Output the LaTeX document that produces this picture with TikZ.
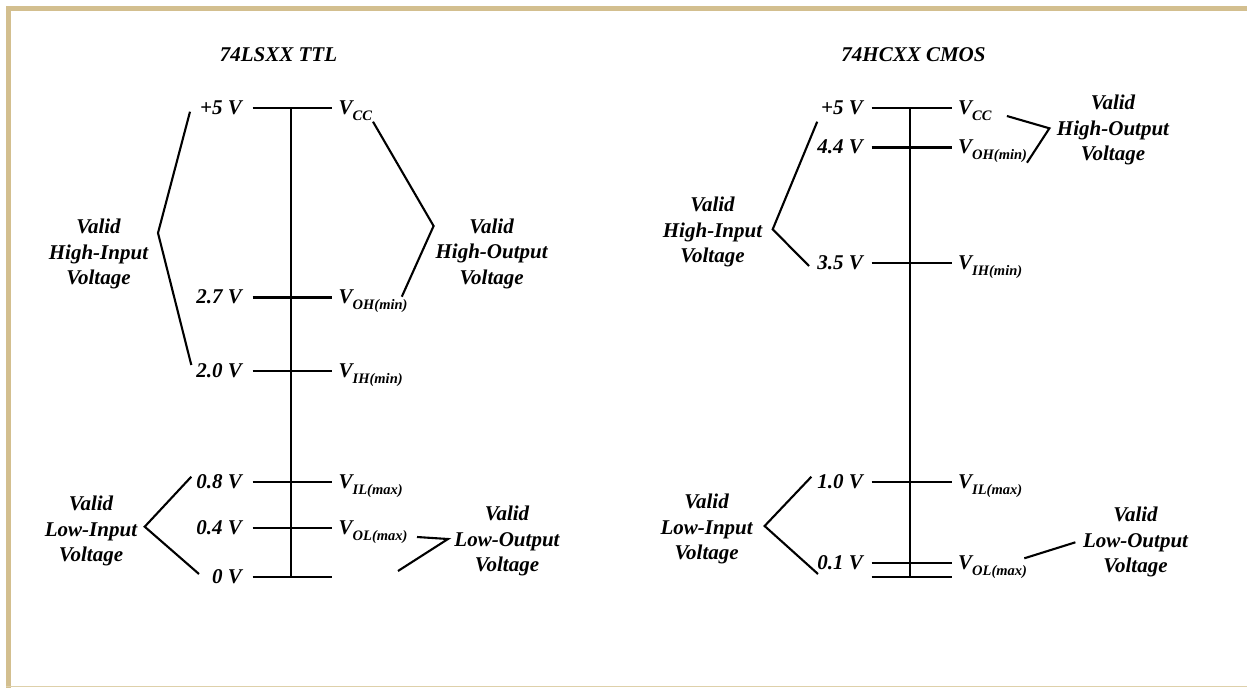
\documentclass[tikz,border=0pt]{standalone}
\usepackage{fontspec}
\setmainfont{Liberation Serif}
\definecolor{bordertan}{RGB}{211,191,143}
\definecolor{bordertanlight}{RGB}{222,208,170}
\newcommand{\sbs}[1]{\raisebox{-6pt}{\fontsize{14.5}{14.5}\selectfont #1}}
\tikzset{
  lbl/.style={font=\fontsize{21}{25.5}\selectfont\bfseries\itshape, inner sep=0pt},
  grp/.style={lbl, align=center},
  leftlbl/.style={lbl, anchor=base east},
  rightlbl/.style={lbl, anchor=base west},
  axisline/.style={line width=2.4pt},
  tickline/.style={line width=2.4pt},
  brace/.style={line width=2.1pt, line join=miter},
}
\begin{document}
\begin{tikzpicture}[x=1pt,y=-1pt]
\useasboundingbox (0,0) rectangle (1247,688);
% border
\fill[bordertan] (6,6) rectangle (1247,11);
\fill[bordertan] (6,6) rectangle (11,687.5);
\draw[bordertanlight, line width=1.3pt] (6,686.8) -- (1247,686.8);

% ================= LEFT: 74LSXX TTL =================
\node[lbl] (Ltitle) at (278.5,55) {74LSXX TTL};
\coordinate (Ltop) at (291,108);
\coordinate (Lbot) at (291,576.7);
\draw[axisline] (Ltop) -- (Lbot);
\foreach \n/\y in {a/108, b/297.3, c/370.7, d/481.7, e/527.7, f/576.7}{
  \coordinate (Lt\n1) at (252.6,\y);
  \coordinate (Lt\n2) at (332,\y);
  \draw[tickline] (Lt\n1) -- (Lt\n2);
}
\node[leftlbl] (L5) at (242,114.5) {+5 V};
\node[leftlbl] (L27) at (242,303.8) {2.7 V};
\node[leftlbl] (L20) at (242,377.2) {2.0 V};
\node[leftlbl] (L08) at (242,488.2) {0.8 V};
\node[leftlbl] (L04) at (242,534.2) {0.4 V};
\node[leftlbl] (L00) at (242,583.2) {0 V};
\node[rightlbl] (Lvcc) at (338.5,114.5) {V\sbs{CC}};
\node[rightlbl] (Lvoh) at (338.5,303.8) {V\sbs{OH(min)}};
\node[rightlbl] (Lvih) at (338.5,377.2) {V\sbs{IH(min)}};
\node[rightlbl] (Lvil) at (338.5,488.2) {V\sbs{IL(max)}};
\node[rightlbl] (Lvol) at (338.5,534.2) {V\sbs{OL(max)}};

\node[grp] (Lhi) at (98.5,254) {Valid\\High-Input\\Voltage};
\node[grp] (Lho) at (491.6,253.7) {Valid\\High-Output\\Voltage};
\node[grp] (Lli) at (91,531) {Valid\\Low-Input\\Voltage};
\node[grp] (Llo) at (507,541) {Valid\\Low-Output\\Voltage};

\coordinate (LhiA) at (190,111.7); \coordinate (LhiB) at (158,233); \coordinate (LhiC) at (191.3,365);
\draw[brace] (LhiA) -- (LhiB) -- (LhiC);
\coordinate (LhoA) at (373,121.7); \coordinate (LhoB) at (433.6,226); \coordinate (LhoC) at (401.8,296.7);
\draw[brace] (LhoA) -- (LhoB) -- (LhoC);
\coordinate (LliA) at (191.3,476.7); \coordinate (LliB) at (144.7,526.7); \coordinate (LliC) at (199,574);
\draw[brace] (LliA) -- (LliB) -- (LliC);
\coordinate (LloA) at (417,537); \coordinate (LloB) at (448,539); \coordinate (LloC) at (398,571);
\draw[brace] (LloA) -- (LloB) -- (LloC);

% ================= RIGHT: 74HCXX CMOS =================
\node[lbl] (Rtitle) at (913.5,55) {74HCXX CMOS};
\coordinate (Rtop) at (910,108);
\coordinate (Rbot) at (910,576.7);
\draw[axisline] (Rtop) -- (Rbot);
\foreach \n/\y in {a/108, b/147.3, c/262.7, d/481.7, e/562.7, f/576.7}{
  \coordinate (Rt\n1) at (871.5,\y);
  \coordinate (Rt\n2) at (951.5,\y);
  \draw[tickline] (Rt\n1) -- (Rt\n2);
}
\node[leftlbl] (R5) at (863,114.5) {+5 V};
\node[leftlbl] (R44) at (863,153.8) {4.4 V};
\node[leftlbl] (R35) at (863,269.2) {3.5 V};
\node[leftlbl] (R10) at (863,488.2) {1.0 V};
\node[leftlbl] (R01) at (863,569.2) {0.1 V};
\node[rightlbl] (Rvcc) at (958,114.5) {V\sbs{CC}};
\node[rightlbl] (Rvoh) at (958,153.8) {V\sbs{OH(min)}};
\node[rightlbl] (Rvih) at (958,269.2) {V\sbs{IH(min)}};
\node[rightlbl] (Rvil) at (958,488.2) {V\sbs{IL(max)}};
\node[rightlbl] (Rvol) at (958,569.2) {V\sbs{OL(max)}};

\node[grp] (Rho) at (1113,130) {Valid\\High-Output\\Voltage};
\node[grp] (Rhi) at (712.5,232) {Valid\\High-Input\\Voltage};
\node[grp] (Rli) at (706.6,529) {Valid\\Low-Input\\Voltage};
\node[grp] (Rlo) at (1135.5,542) {Valid\\Low-Output\\Voltage};

\coordinate (RhoA) at (1006.9,116); \coordinate (RhoB) at (1049.4,128.3); \coordinate (RhoC) at (1027,162.7);
\draw[brace] (RhoA) -- (RhoB) -- (RhoC);
\coordinate (RhiA) at (817.2,121.7); \coordinate (RhiB) at (772.7,229.3); \coordinate (RhiC) at (809,266);
\draw[brace] (RhiA) -- (RhiB) -- (RhiC);
\coordinate (RliA) at (811.4,476.7); \coordinate (RliB) at (764.6,526); \coordinate (RliC) at (818,574);
\draw[brace] (RliA) -- (RliB) -- (RliC);
\coordinate (RloA) at (1024.3,558.3); \coordinate (RloB) at (1075.4,542.3);
\draw[brace] (RloA) -- (RloB);
\end{tikzpicture}
\end{document}
